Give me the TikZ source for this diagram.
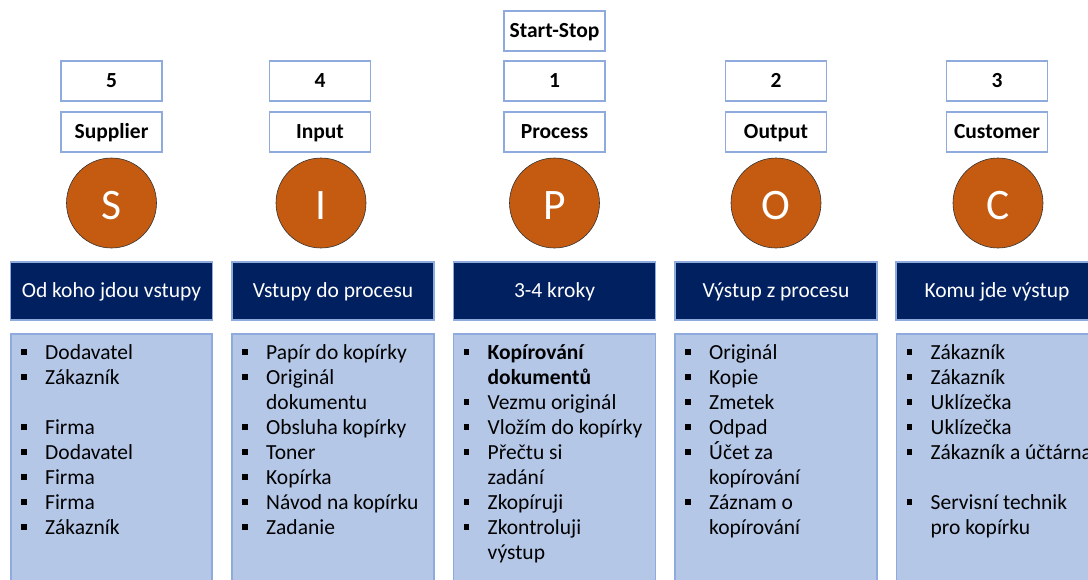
\documentclass[tikz,border=0pt]{standalone}
\usepackage{fontspec}
\setmainfont{Carlito}
\definecolor{sorange}{HTML}{C55A11}
\definecolor{sdark}{HTML}{002060}
\definecolor{slist}{HTML}{B4C7E7}
\definecolor{sborder}{HTML}{8FAADC}
\newcommand\sbul{\makebox[24pt][l]{\raisebox{4.7pt}{\rule{5.5pt}{5.5pt}}}}
\newcommand\scont{\hspace*{24pt}}
\tikzset{
  smallbox/.style={draw=sborder, line width=1.2pt, fill=white, minimum width=101pt, minimum height=40pt,
    inner sep=0pt, font=\fontsize{21.5}{25}\selectfont\bfseries, text height=15.8pt, text depth=2pt},
  letterc/.style={circle, draw=black!80, line width=0.6pt, fill=sorange, minimum size=90pt, inner sep=0pt},
  letter/.style={text=white, font=\fontsize{43.5}{50}\selectfont, inner sep=0pt},
  headbox/.style={draw=sborder, line width=1.2pt, fill=sdark, text=white, minimum width=202pt, minimum height=58pt,
    inner sep=0pt, font=\fontsize{21.5}{25}\selectfont, text height=15.8pt, text depth=2pt},
  listbox/.style={draw=sborder, line width=1.2pt, fill=slist},
  listtext/.style={anchor=north west, inner sep=0pt, align=left, font=\fontsize{21.5}{25}\selectfont}
}
\begin{document}
\begin{tikzpicture}[x=1pt,y=-1pt]
\useasboundingbox (0,0) rectangle (1088,579);
\clip (0,0) rectangle (1088,579);
% top boxes
\node[smallbox] (ss) at (554.5,31) {Start-Stop};
\node[smallbox] (n5) at (111.5,81) {5};
\node[smallbox] (n4) at (320,81) {4};
\node[smallbox] (n1) at (554.5,81) {1};
\node[smallbox] (n2) at (776,81) {2};
\node[smallbox] (n3) at (997,81) {3};
\node[smallbox] (tS) at (111.5,132) {Supplier};
\node[smallbox] (tI) at (320,132) {Input};
\node[smallbox] (tP) at (554.5,132) {Process};
\node[smallbox] (tO) at (776,132) {Output};
\node[smallbox] (tC) at (997,132) {Customer};
% circles
\node[letterc] (cS) at (111.5,203) {};
\node[letterc] (cI) at (321,203) {};
\node[letterc] (cP) at (554.5,203) {};
\node[letterc] (cO) at (776,203) {};
\node[letterc] (cC) at (998,203) {};
\node[letter] (lS) at ([yshift=-3pt]cS.center) {S};
\node[letter] (lI) at ([yshift=-3pt]cI.center) {I};
\node[letter] (lP) at ([yshift=-3pt]cP.center) {P};
\node[letter] (lO) at ([yshift=-3pt]cO.center) {O};
\node[letter] (lC) at ([yshift=-3pt]cC.center) {C};
% header boxes
\node[headbox] (hS) at (111.5,291) {Od koho jdou vstupy};
\node[headbox] (hI) at (333,291) {Vstupy do procesu};
\node[headbox] (hP) at (554.5,291) {3-4 kroky};
\node[headbox] (hO) at (776,291) {Výstup z procesu};
\node[headbox] (hC) at (997,291) {Komu jde výstup};
% list boxes
\path[listbox] (11,334) rectangle (212,600);
\path[listbox] (232,334) rectangle (434,600);
\path[listbox] (453.5,334) rectangle (655.5,600);
\path[listbox] (675,334) rectangle (877,600);
\path[listbox] (896.5,334) rectangle (1100,600);
\node[listtext] (xS) at (21,344.5) {\sbul Dodavatel\\ \sbul Zákazník\\ \strut\\ \sbul Firma\\ \sbul Dodavatel\\ \sbul Firma\\ \sbul Firma\\ \sbul Zákazník};
\node[listtext] (xI) at (242,344.5) {\sbul Papír do kopírky\\ \sbul Originál\\ \scont dokumentu\\ \sbul Obsluha kopírky\\ \sbul Toner\\ \sbul Kopírka\\ \sbul Návod na kopírku\\ \sbul Zadanie};
\node[listtext] (xP) at (463.5,344.5) {\sbul \textbf{Kopírování}\\ \scont\textbf{dokumentů}\\ \sbul Vezmu originál\\ \sbul Vložím do kopírky\\ \sbul Přečtu si\\ \scont zadání\\ \sbul Zkopíruji\\ \sbul Zkontroluji\\ \scont výstup};
\node[listtext] (xO) at (685,344.5) {\sbul Originál\\ \sbul Kopie\\ \sbul Zmetek\\ \sbul Odpad\\ \sbul Účet za\\ \scont kopírování\\ \sbul Záznam o\\ \scont kopírování};
\node[listtext] (xC) at (906.5,344.5) {\sbul Zákazník\\ \sbul Zákazník\\ \sbul Uklízečka\\ \sbul Uklízečka\\ \sbul Zákazník a účtárna\\ \strut\\ \sbul Servisní technik\\ \scont pro kopírku};
\end{tikzpicture}
\end{document}
